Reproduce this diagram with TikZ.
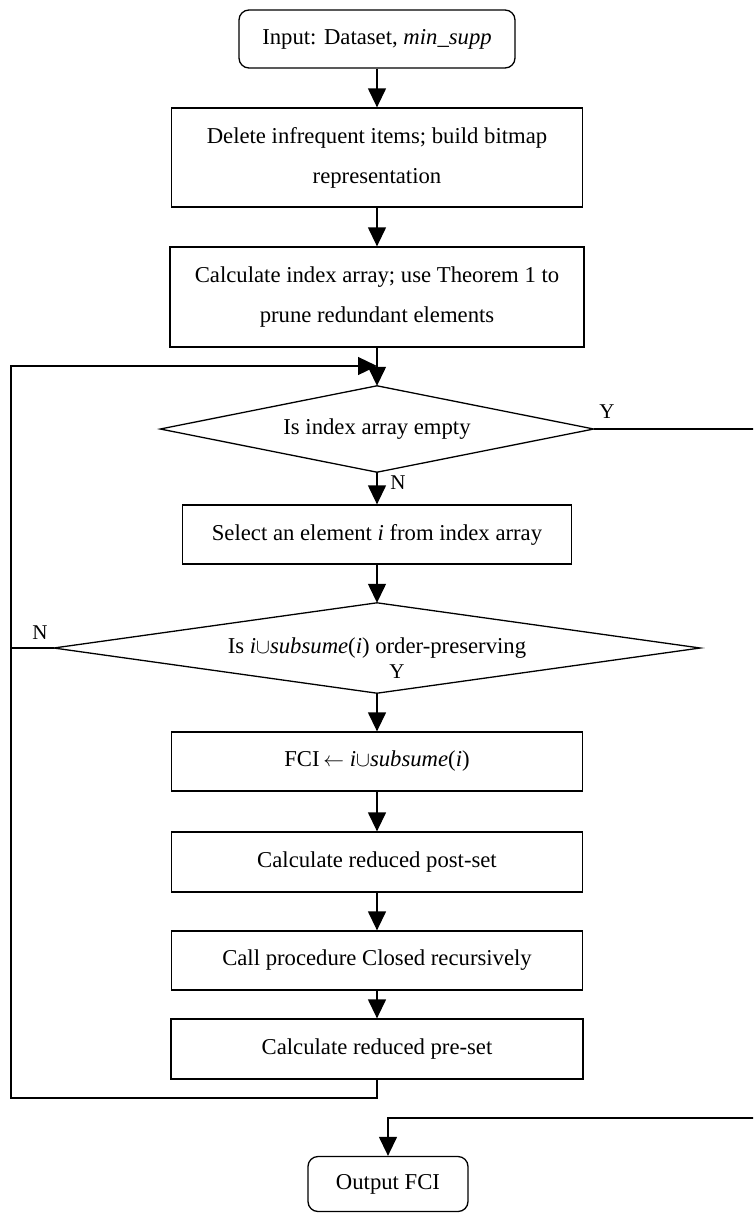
\documentclass[tikz,border=0pt]{standalone}
\usepackage{fontspec}
\setmainfont{Liberation Serif}
\usetikzlibrary{arrows.meta}
\begin{document}
\begin{tikzpicture}[x=1pt,y=-1pt,
  every node/.style={font=\fontsize{22.7}{40}\selectfont},
  proc/.style={draw, line width=1.3pt, inner sep=0pt, align=center},
  term/.style={proc, rounded corners=10pt},
  decision/.style={inner sep=0pt, align=center},
  flow/.style={line width=1.3pt, -{Triangle[length=19pt,width=18pt]}},
  plain/.style={line width=1.3pt},
  lbl/.style={font=\fontsize{21}{24}\selectfont, inner sep=0pt},
]
\useasboundingbox (0,0) rectangle (753,1213);
\begin{scope}
\clip (0,0) rectangle (753,1213);
\node[term, minimum width=276pt, minimum height=58pt] (in) at (377,39) {Input: Dataset, \textit{min\_supp}};
\node[proc, minimum width=411pt, minimum height=99pt] (b2) at (377,157.5) {Delete infrequent items; build bitmap\\representation};
\node[proc, minimum width=414pt, minimum height=100pt] (b3) at (377,297) {Calculate index array; use Theorem 1 to\\prune redundant elements};
\node[decision, minimum width=433pt, minimum height=86pt] (d1) at (377,429) {Is index array empty};
\draw[plain] (d1.north) -- (d1.east) -- (d1.south) -- (d1.west) -- cycle;
\node[proc, minimum width=389pt, minimum height=59pt] (sel) at (377,534.5) {Select an element \textit{i} from index array};
\node[decision, minimum width=646pt, minimum height=90pt] (d2) at (377,648) {Is \textit{i}$\cup$\textit{subsume}(\textit{i}) order-preserving};
\draw[plain] (d2.north) -- (d2.east) -- (d2.south) -- (d2.west) -- cycle;
\node[proc, minimum width=411pt, minimum height=59pt] (fci) at (377,761.5) {FCI\,$\leftarrow$ \textit{i}$\cup$\textit{subsume}(\textit{i})};
\node[proc, minimum width=411pt, minimum height=60pt] (post) at (377,862) {Calculate reduced post-set};
\node[proc, minimum width=411pt, minimum height=59pt] (call) at (377,960.5) {Call procedure Closed recursively};
\node[proc, minimum width=412pt, minimum height=60pt] (pre) at (377,1049) {Calculate reduced pre-set};
\node[term, minimum width=160pt, minimum height=55pt] (out) at (388,1184) {Output FCI};

\node[lbl] (y1) at (607,412) {Y};
\node[lbl] (n1) at (398,483) {N};
\node[lbl] (n2) at (40,633) {N};
\node[lbl] (y2) at (397,672) {Y};

\coordinate (lb) at (11,1098);
\coordinate (lt) at (11,366);
\coordinate (join) at (377,366);
\coordinate (r1) at (760,1118);
\coordinate (ob) at (388,1118);

\draw[flow] (in) -- (b2);
\draw[flow] (b2) -- (b3);
\draw[flow] (b3.south) -- (d1.north);
\draw[flow] (d1.south) -- (sel.north);
\draw[flow] (sel.south) -- (d2.north);
\draw[flow] (d2.south) -- (fci.north);
\draw[flow] (fci) -- (post);
\draw[flow] (post) -- (call);
\draw[flow] (call) -- (pre);
\draw[flow] (pre.south) |- (lb) -- (lt) -- (join);
\draw[plain] (d2.west) -- (d2.west -| lt);
\draw[flow] (d1.east) -| (r1) -- (ob) -- (out);
\end{scope}
\end{tikzpicture}
\end{document}
